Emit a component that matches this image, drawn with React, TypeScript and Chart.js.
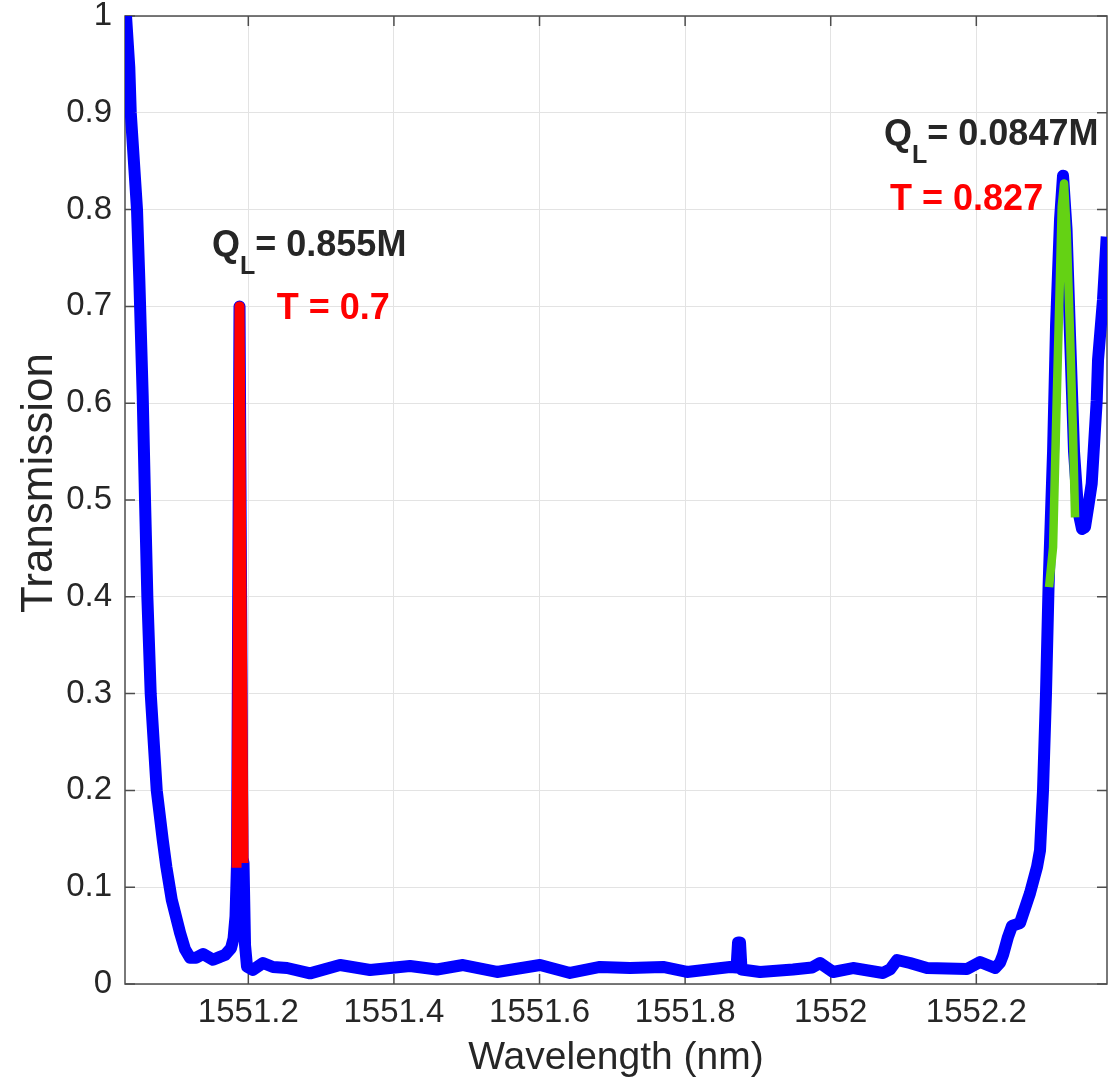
import React, { useEffect, useRef } from 'react';
import { Chart, registerables } from 'chart.js';

Chart.register(...registerables);

// Measured transmission spectrum (wavelength in nm, normalised transmission)
const wavelengthNm = [
  1551.0320, 1551.0365, 1551.0385, 1551.0471, 1551.0503, 1551.0549, 1551.0581, 1551.0613, 1551.0659, 1551.0742,
  1551.0824, 1551.0874, 1551.0948, 1551.1062, 1551.1130, 1551.1199, 1551.1282, 1551.1378, 1551.1515, 1551.1611,
  1551.1680, 1551.1762, 1551.1797, 1551.1824, 1551.1845, 1551.1879, 1551.1920, 1551.1934, 1551.1955, 1551.1982,
  1551.2060, 1551.2202, 1551.2339, 1551.2532, 1551.2848, 1551.3260, 1551.3672, 1551.4221, 1551.4592, 1551.4949,
  1551.5416, 1551.6007, 1551.6419, 1551.6831, 1551.7243, 1551.7696, 1551.8026, 1551.8617, 1551.8706, 1551.8727,
  1551.8754, 1551.8775, 1551.9029, 1551.9482, 1551.9743, 1551.9853, 1552.0032, 1552.0306, 1552.0718, 1552.0815,
  1552.0911, 1552.1089, 1552.1323, 1552.1872, 1552.2051, 1552.2257, 1552.2326, 1552.2367, 1552.2435, 1552.2490,
  1552.2600, 1552.2738, 1552.2834, 1552.2875, 1552.2916, 1552.2957, 1552.2992, 1552.3054, 1552.3095, 1552.3150,
  1552.3191, 1552.3239, 1552.3287, 1552.3342, 1552.3397, 1552.3452, 1552.3493, 1552.3541, 1552.3585, 1552.3654,
  1552.3672, 1552.3740, 1552.3791,
];
const transmission = [
  1.0, 0.947, 0.90, 0.80, 0.727, 0.608, 0.50, 0.40, 0.30, 0.20,
  0.149, 0.121, 0.087, 0.053, 0.036, 0.027, 0.027, 0.031, 0.025, 0.028,
  0.030, 0.037, 0.047, 0.07, 0.125, 0.70, 0.13, 0.125, 0.04, 0.018,
  0.0145, 0.0217, 0.0176, 0.0165, 0.011, 0.0196, 0.0145, 0.0186, 0.015, 0.0196,
  0.0124, 0.0196, 0.0114, 0.0176, 0.0165, 0.0176, 0.0124, 0.0176, 0.017, 0.043,
  0.043, 0.015, 0.0124, 0.015, 0.017, 0.0217, 0.0124, 0.0165, 0.0114, 0.015,
  0.0248, 0.0217, 0.0165, 0.0155, 0.0227, 0.0165, 0.022, 0.030, 0.0486, 0.060,
  0.063, 0.094, 0.121, 0.138, 0.20, 0.30, 0.41, 0.55, 0.68, 0.79,
  0.835, 0.78, 0.67, 0.55, 0.49, 0.47, 0.472, 0.495, 0.517, 0.603,
  0.645, 0.707, 0.772,
];

// Fit of the narrow resonance near 1551.19 nm
const fit1WavelengthNm = [1551.1838, 1551.1879, 1551.1934];
const fit1Transmission = [0.12, 0.70, 0.125];

// Fit of the broad resonance near 1552.32 nm
const fit2WavelengthNm = [1552.2999, 1552.3054, 1552.3104, 1552.3150, 1552.3173, 1552.3205, 1552.3242, 1552.3287, 1552.3328, 1552.3356];
const fit2Transmission = [0.41, 0.451, 0.603, 0.734, 0.803, 0.827, 0.776, 0.672, 0.569, 0.482];

// Axis ticks
const xTickValues = [1551.2, 1551.4, 1551.6, 1551.8, 1552.0, 1552.2];
const xTickLabels = ['1551.2', '1551.4', '1551.6', '1551.8', '1552', '1552.2'];
const yTickValues = [0, 0.1, 0.2, 0.3, 0.4, 0.5, 0.6, 0.7, 0.8, 0.9, 1];
const yTickLabels = ['0', '0.1', '0.2', '0.3', '0.4', '0.5', '0.6', '0.7', '0.8', '0.9', '1'];

// Resonance annotations: loaded Q and peak transmission
const loadedQ = ['0.855M', '0.0847M'];
const peakT = ['0.7', '0.827'];
const qLabelAnchor = [[1551.1501, 0.752], [1552.0732, 0.8667]];
const tLabelAnchor = [[1551.2390, 0.687], [1552.0815, 0.7996]];

const FONT = '"Liberation Sans", Arial, Helvetica, sans-serif';
const AXIS_COLOR = '#4d4d4d';
const TEXT_COLOR = '#262626';
const TICK_LEN = 10;

const boxPlugin = {
  id: 'axesBox',
  beforeDatasetsDraw(chart: any) {
    const { ctx, chartArea } = chart;
    const { left, right, top, bottom } = chartArea;
    const x = chart.scales.x;
    const y = chart.scales.y;
    ctx.save();
    ctx.strokeStyle = AXIS_COLOR;
    ctx.lineWidth = 1.5;
    ctx.strokeRect(left, top, right - left, bottom - top);
    ctx.beginPath();
    xTickValues.forEach((v) => {
      const px = x.getPixelForValue(v);
      ctx.moveTo(px, bottom);
      ctx.lineTo(px, bottom - TICK_LEN);
      ctx.moveTo(px, top);
      ctx.lineTo(px, top + TICK_LEN);
    });
    yTickValues.forEach((v) => {
      const py = y.getPixelForValue(v);
      ctx.moveTo(left, py);
      ctx.lineTo(left + TICK_LEN, py);
      ctx.moveTo(right, py);
      ctx.lineTo(right - TICK_LEN, py);
    });
    ctx.stroke();

    // y-axis title
    ctx.translate(40, 483);
    ctx.rotate(-Math.PI / 2);
    ctx.fillStyle = TEXT_COLOR;
    ctx.font = `44px ${FONT}`;
    ctx.textAlign = 'center';
    ctx.textBaseline = 'middle';
    ctx.fillText('Transmission', 0, 0);
    ctx.restore();
  },
};

const annotationPlugin = {
  id: 'resonanceLabels',
  afterDatasetsDraw(chart: any) {
    const { ctx } = chart;
    const x = chart.scales.x;
    const y = chart.scales.y;
    ctx.save();
    ctx.textAlign = 'left';
    ctx.textBaseline = 'alphabetic';
    loadedQ.forEach((q, i) => {
      let px = x.getPixelForValue(qLabelAnchor[i][0]);
      const py = y.getPixelForValue(qLabelAnchor[i][1]);
      ctx.fillStyle = TEXT_COLOR;
      ctx.font = `bold 36px ${FONT}`;
      ctx.fillText('Q', px, py);
      px += ctx.measureText('Q').width;
      ctx.font = `bold 25px ${FONT}`;
      ctx.fillText('L', px, py + 18);
      px += ctx.measureText('L').width;
      ctx.font = `bold 36px ${FONT}`;
      ctx.fillText(`= ${q}`, px, py);

      const tx = x.getPixelForValue(tLabelAnchor[i][0]);
      const ty = y.getPixelForValue(tLabelAnchor[i][1]);
      ctx.fillStyle = '#ff0000';
      ctx.fillText(`T = ${peakT[i]}`, tx, ty);
    });
    ctx.restore();
  },
};

export default function App() {
  const canvasRef = useRef<HTMLCanvasElement>(null);

  useEffect(() => {
    const canvas = canvasRef.current;
    if (!canvas) return;
    const toPoints = (xs: number[], ys: number[]) => xs.map((v, i) => ({ x: v, y: ys[i] }));

    const chart = new Chart(canvas, {
      type: 'line',
      data: {
        datasets: [
          {
            data: toPoints(fit1WavelengthNm, fit1Transmission),
            borderColor: '#ff0000',
            borderWidth: 10,
            pointRadius: 0,
            tension: 0,
            borderJoinStyle: 'round',
            borderCapStyle: 'butt',
            order: 1,
          },
          {
            data: toPoints(fit2WavelengthNm, fit2Transmission),
            borderColor: '#64d214',
            borderWidth: 8.5,
            pointRadius: 0,
            tension: 0,
            borderJoinStyle: 'round',
            borderCapStyle: 'butt',
            order: 1,
          },
          {
            data: toPoints(wavelengthNm, transmission),
            borderColor: '#0000ff',
            borderWidth: 12,
            pointRadius: 0,
            tension: 0,
            borderJoinStyle: 'round',
            borderCapStyle: 'butt',
            order: 2,
          },
        ],
      },
      options: {
        animation: false,
        responsive: false,
        maintainAspectRatio: false,
        devicePixelRatio: 1,
        layout: { padding: { left: 0, right: 5, top: 16, bottom: 0 } },
        plugins: { legend: { display: false }, tooltip: { enabled: false } },
        scales: {
          x: {
            type: 'linear',
            min: 1551.0306,
            max: 1552.3795,
            afterBuildTicks: (scale: any) => {
              scale.ticks = xTickValues.map((v) => ({ value: v }));
            },
            afterFit: (scale: any) => {
              scale.height = 99;
              scale.paddingLeft = 0;
              scale.paddingRight = 0;
            },
            ticks: {
              autoSkip: false,
              maxRotation: 0,
              padding: 12,
              color: TEXT_COLOR,
              font: { family: FONT, size: 33, lineHeight: 1 },
              callback: (_v: any, i: number) => xTickLabels[i],
            },
            grid: { color: '#e3e3e3', lineWidth: 1, drawTicks: false },
            border: { display: false },
            title: {
              display: true,
              text: 'Wavelength (nm)',
              color: TEXT_COLOR,
              font: { family: FONT, size: 39, lineHeight: 1 },
              padding: { top: 0, bottom: 5 },
            },
          },
          y: {
            type: 'linear',
            min: 0,
            max: 1,
            afterBuildTicks: (scale: any) => {
              scale.ticks = yTickValues.map((v) => ({ value: v }));
            },
            afterFit: (scale: any) => {
              scale.width = 125;
              scale.paddingTop = 0;
              scale.paddingBottom = 0;
            },
            ticks: {
              autoSkip: false,
              padding: 13,
              color: TEXT_COLOR,
              font: { family: FONT, size: 33, lineHeight: 1 },
              callback: (_v: any, i: number) => yTickLabels[i],
            },
            grid: { color: '#e3e3e3', lineWidth: 1, drawTicks: false },
            border: { display: false },
          },
        },
      },
      plugins: [boxPlugin, annotationPlugin],
    } as any);

    return () => chart.destroy();
  }, []);

  return (
    <div style={{ position: 'fixed', left: 0, top: 0, width: 1112, height: 1083, background: '#fff' }}>
      <canvas ref={canvasRef} width={1112} height={1083} style={{ width: 1112, height: 1083, display: 'block' }} />
    </div>
  );
}
